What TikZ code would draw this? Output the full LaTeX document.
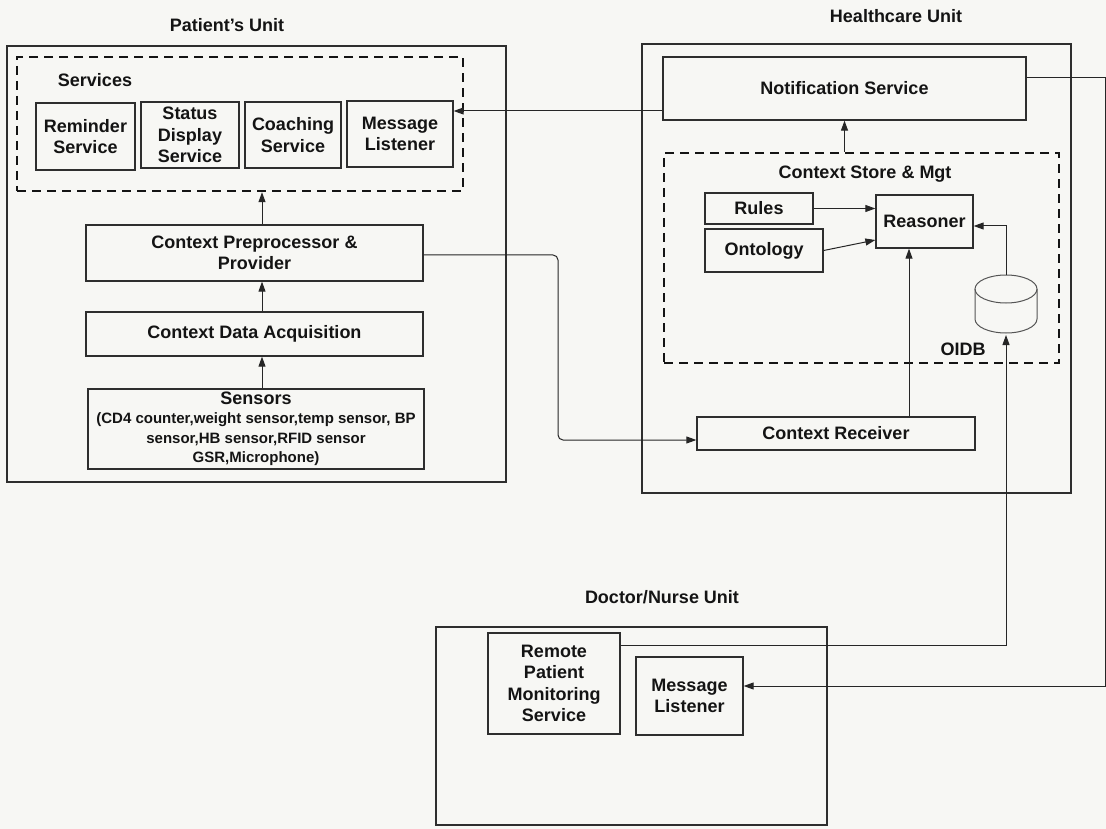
\documentclass[tikz,border=0pt]{standalone}
\usepackage{fontspec}
\setmainfont{Liberation Sans}
\usetikzlibrary{arrows.meta,calc}
\definecolor{paper}{HTML}{F7F7F4}
\definecolor{ink}{HTML}{141414}
\definecolor{edge}{HTML}{2E2E2E}
\definecolor{wirec}{HTML}{262626}
\definecolor{dbgray}{HTML}{555555}
\newcommand{\fsMain}{\fontsize{18}{21.5}\selectfont\bfseries}
\newcommand{\fsTitle}{\fontsize{18}{21}\selectfont\bfseries}
\newcommand{\fsSmall}{\fontsize{15}{18.5}\selectfont\bfseries}

\begin{document}
\begin{tikzpicture}[x=1pt,y=-1pt,
  box/.style={draw=edge, line width=1.3pt, inner sep=0pt, align=center, text=ink, font=\fsMain},
  unit/.style={draw=edge, line width=1.1pt, inner sep=0pt},
  group/.style={draw=ink, line width=2.4pt, dash pattern=on 9pt off 6pt, inner sep=0pt},
  lbl/.style={text=ink, font=\fsMain, inner sep=0pt},
  ttl/.style={text=ink, font=\fsTitle, inner sep=0pt},
  wire/.style={draw=wirec, line width=1pt},
  arr/.style={wire, -{Triangle[length=10pt,width=7pt]}},
]
\fill[paper] (0,0) rectangle (1106,829);
\useasboundingbox (0,0) rectangle (1106,829);

% ---------- Patient's unit ----------
\node[ttl] (patientT) at (227,25) {Patient's Unit};
\node[unit, minimum width=499pt, minimum height=436pt] (patient) at (256.5,264) {};
\node[group, minimum width=446pt, minimum height=134pt] (services) at (240,124) {};
\node[lbl] (servicesT) at (95,80) {Services};
\node[box, minimum width=99pt, minimum height=67pt] (remind) at (85.5,136.5) {Reminder\\Service};
\node[box, minimum width=98pt, minimum height=66pt] (status) at (190,135) {Status\\Display\\Service};
\node[box, minimum width=96pt, minimum height=66pt] (coach) at (293,135) {Coaching\\Service};
\node[box, minimum width=106pt, minimum height=66pt] (msgl) at (400,134) {Message\\Listener};
\node[box, minimum width=337pt, minimum height=56pt] (preproc) at (254.5,253) {Context Preprocessor \&\\Provider};
\node[box, minimum width=337pt, minimum height=44pt] (cda) at (254.5,334) {Context Data Acquisition};
\node[box, minimum width=336pt, minimum height=80pt] (sensors) at (256,429)
  {Sensors\\[-2pt]\fsSmall (CD4 counter,weight sensor,temp sensor, BP\\[-2pt]
   \fsSmall sensor,HB sensor,RFID sensor\\[-2pt]
   \fsSmall GSR,Microphone)};

% ---------- Healthcare unit ----------
\node[ttl] (healthT) at (896,16) {Healthcare Unit};
\node[unit, minimum width=429pt, minimum height=449pt] (health) at (856.5,268.5) {};
\node[box, minimum width=363pt, minimum height=63pt] (notif) at (844.5,88.5) {Notification Service};
\node[group, minimum width=395pt, minimum height=210pt] (cstore) at (861.5,258) {};
\node[lbl] (cstoreT) at (865,174) {Context Store \& Mgt};
\node[box, minimum width=108pt, minimum height=31pt] (rules) at (759,208.5) {Rules};
\node[box, minimum width=118pt, minimum height=43pt] (ontology) at (764,250.5) {Ontology};
\node[box, minimum width=97pt, minimum height=53pt] (reasoner) at (924.5,221.5) {Reasoner};
\node[box, minimum width=278pt, minimum height=33pt] (cr) at (836,433.5) {Context Receiver};

% OIDB store drawn as a cylinder
\draw[draw=dbgray, line width=1pt, fill=paper] (975,289) -- (975,319)
  arc[start angle=180, end angle=360, x radius=31pt, y radius=14pt] -- (1037,289);
\draw[draw=dbgray, line width=1pt] (1006,289) ellipse [x radius=31pt, y radius=14pt];
\coordinate (dbtop) at (1006,275);
\coordinate (dbbot) at (1006,335);
\node[lbl] (oidbT) at (963,349) {OIDB};

% ---------- Doctor/Nurse unit ----------
\node[ttl] (doctorT) at (662,597) {Doctor/Nurse Unit};
\node[unit, minimum width=391pt, minimum height=198pt] (doctor) at (631.5,726) {};
\node[box, minimum width=132pt, minimum height=101pt] (rpm) at (554,683.5) {Remote\\Patient\\Monitoring\\Service};
\node[box, minimum width=107pt, minimum height=78pt] (dmsg) at (689.5,696) {Message\\Listener};

% ---------- routing guides ----------
\coordinate (xP) at (262,0);
\coordinate (xJ) at (558,0);
\coordinate (yP) at (0,255);
\coordinate (yC) at (0,440);
\coordinate (yN) at (0,111);
\coordinate (yA) at (0,78);
\coordinate (xR) at (1105,0);
\coordinate (yD) at (0,686);
\coordinate (yM) at (0,645);
\coordinate (xDB) at (1006,0);
\coordinate (xC) at (909,0);
\coordinate (yQ) at (0,226);

% ---------- connectors ----------
\draw[arr] (sensors.north -| xP) -- (cda.south -| xP);
\draw[arr] (cda.north -| xP) -- (preproc.south -| xP);
\draw[arr] (preproc.north -| xP) -- (services.south -| xP);
\draw[arr, rounded corners=5pt] (preproc.east |- yP) -- (xJ |- yP) -- (xJ |- yC) -- (cr.west |- yC);
\draw[arr] (notif.west |- yN) -- (msgl.east |- yN);
\draw[arr] (cstore.north -| notif.south) -- (notif.south);
\draw[arr] (rules.east) -- (reasoner.west |- rules.east);
\draw[arr] (ontology.east) -- ($(reasoner.west)+(0,18.5)$);
\draw[arr] (dbtop) -- (xDB |- yQ) -- (reasoner.east |- yQ);
\draw[arr] (cr.north -| xC) -- (reasoner.south -| xC);
\draw[arr] (rpm.east |- yM) -- (xDB |- yM) -- (dbbot);
\draw[arr] (notif.east |- yA) -- (xR |- yA) -- (xR |- yD) -- (dmsg.east |- yD);
\end{tikzpicture}
\end{document}
